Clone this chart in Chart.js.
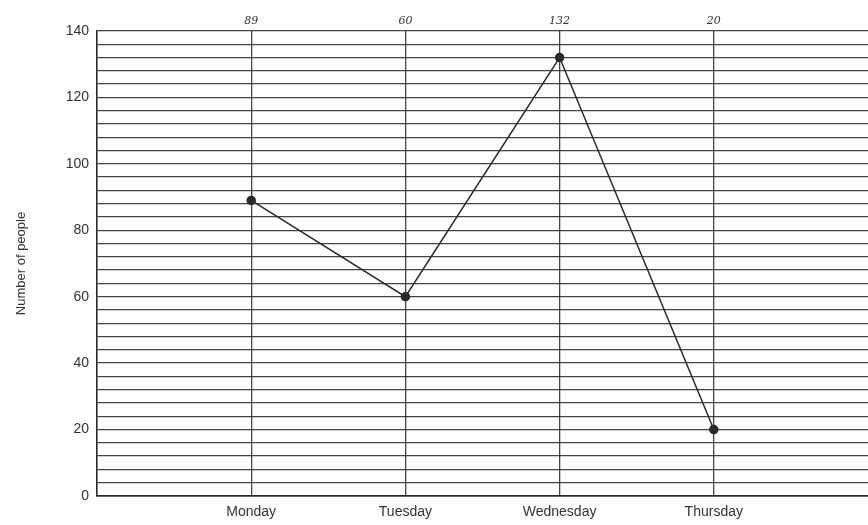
<!DOCTYPE html>
<html>
<head>
<meta charset="utf-8">
<script src="https://cdn.jsdelivr.net/npm/chart.js@4"></script>
<style>
  html, body { margin: 0; padding: 0; background: #fff; overflow: hidden; }
  #wrap { width: 868px; height: 525px; overflow: hidden; }
</style>
</head>
<body>
<div id="wrap"><canvas id="grafico" width="876" height="525"></canvas></div>
<script>
  // Datos del gráfico
  const dias = ["", "Monday", "Tuesday", "Wednesday", "Thursday", ""];
  const personas = [null, 89, 60, 132, 20, null];
  // Anotaciones escritas a mano encima de cada día
  const notas = ["", "89", "60", "132", "20", ""];
  const tituloY = "Number of people";

  const colorLinea = "rgba(35, 35, 35, 0.85)";

  // Plugin para las notas manuscritas sobre el gráfico
  const notasPlugin = {
    id: "notas",
    afterDraw(chart) {
      const ctx = chart.ctx;
      const x = chart.scales.x;
      ctx.save();
      ctx.font = "italic 11px 'DejaVu Serif'";
      ctx.fillStyle = "#333";
      ctx.textAlign = "center";
      ctx.textBaseline = "bottom";
      notas.forEach((n, i) => {
        if (n) ctx.fillText(n, x.getPixelForValue(i), chart.chartArea.top - 4);
      });
      ctx.restore();
    },
  };

  const ctx = document.getElementById("grafico");
  new Chart(ctx, {
    type: "line",
    data: {
      labels: dias,
      datasets: [
        {
          data: personas,
          borderColor: "#2a2a2a",
          borderWidth: 1.5,
          pointRadius: 4,
          pointBackgroundColor: "#2a2a2a",
          pointBorderColor: "#2a2a2a",
          tension: 0,
          spanGaps: false,
        },
      ],
    },
    options: {
      responsive: false,
      animation: false,
      layout: { padding: { top: 31, right: 0, left: 0, bottom: 0 } },
      plugins: { legend: { display: false }, tooltip: { enabled: false } },
      scales: {
        x: {
          offset: false,
          grid: {
            color: (c) => (c.index === 5 ? "rgba(0,0,0,0)" : colorLinea),
            lineWidth: 1.3,
            drawTicks: false,
          },
          border: { display: true, color: colorLinea, width: 1.8 },
          ticks: {
            color: "#333",
            font: { family: "'Liberation Sans', Arial", size: 14 },
            padding: 8,
            autoSkip: false,
            maxRotation: 0,
          },
          afterFit: (s) => { s.height = 29; },
        },
        y: {
          min: 0,
          max: 140,
          grid: { color: colorLinea, lineWidth: 1.3, drawTicks: false },
          border: { display: true, color: colorLinea, width: 1.5 },
          ticks: {
            stepSize: 4,
            autoSkip: false,
            color: "#333",
            font: { family: "'Liberation Sans', Arial", size: 14 },
            padding: 8,
            callback: (v) => (v % 20 === 0 ? v : ""),
          },
          title: {
            display: true,
            text: tituloY,
            color: "#333",
            font: { family: "'Liberation Sans', Arial", size: 13 },
            padding: { top: 14, bottom: 0 },
          },
          afterFit: (s) => { s.width = 97; },
        },
      },
    },
    plugins: [notasPlugin],
  });
</script>
</body>
</html>
